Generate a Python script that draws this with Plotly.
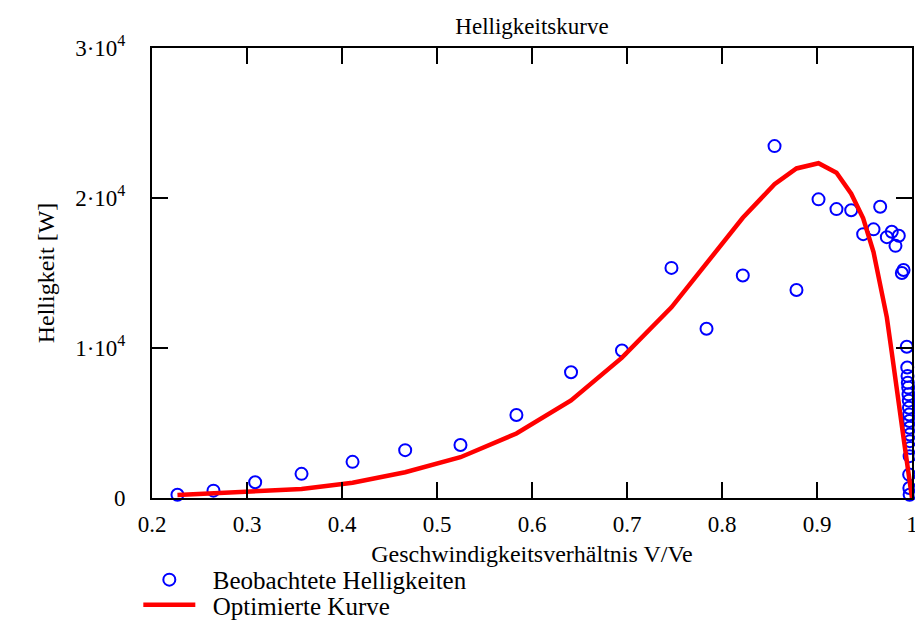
import plotly.graph_objects as go

# Observed brightness (Beobachtete Helligkeiten)
obs_x = [0.2268, 0.2647, 0.3086, 0.3574, 0.4111, 0.4665, 0.5247, 0.5836, 0.6411, 0.6947,
         0.7468, 0.7837, 0.8219, 0.8553, 0.8784, 0.9016, 0.9205, 0.9360, 0.9486, 0.9595,
         0.9665, 0.9735, 0.9787, 0.9826, 0.9861, 0.9893, 0.9911,
         0.9945, 0.9950, 0.9953, 0.9956, 0.9960, 0.9963, 0.9966, 0.9968, 0.9970, 0.9972,
         0.9974, 0.9976, 0.9978, 0.9980, 0.9975, 0.9970, 0.9972, 0.9975]
obs_y = [220, 490, 1050, 1610, 2410, 3190, 3530, 5530, 8380, 9830,
         15340, 11280, 14830, 23460, 13870, 19910, 19260, 19180, 17590, 17910,
         19420, 17390, 17750, 16810, 17480, 15000, 15200,
         10080, 8700, 8140, 7690, 7360, 6910, 6490, 6020, 5570, 5130,
         4680, 4230, 3790, 3340, 2790, 1560, 670, 220]

# Optimized curve (Optimierte Kurve)
fit_x = [0.2268, 0.2647, 0.3086, 0.3574, 0.4111, 0.4665, 0.5247, 0.5836, 0.6411, 0.6947,
         0.7468, 0.7837, 0.8219, 0.8553, 0.8784, 0.9016, 0.9205, 0.9360, 0.9486, 0.9595,
         0.9665, 0.9735, 0.9787, 0.9826, 0.9861, 0.9893, 0.9911, 1.0]
fit_y = [200, 310, 400, 600, 1020, 1720, 2720, 4300, 6510, 9360,
         12710, 15650, 18680, 20920, 21970, 22320, 21690, 20290, 18650, 16390,
         14380, 12040, 9700, 8030, 6350, 4820, 4010, 0]

x_ticks = [0.2, 0.3, 0.4, 0.5, 0.6, 0.7, 0.8, 0.9, 1.0]
x_ticktext = ["0.2", "0.3", "0.4", "0.5", "0.6", "0.7", "0.8", "0.9", "1"]
y_ticks = [0, 10000, 20000, 30000]
y_ticktext = ["0", "1\u00b710<sup>4</sup>", "2\u00b710<sup>4</sup>", "3\u00b710<sup>4</sup>"]

FONT = "Liberation Serif, Times New Roman, serif"
NB = "\u00a0\u00a0"

fig = go.Figure()
fig.add_trace(go.Scatter(
    x=obs_x, y=obs_y, mode="markers", name=NB + "Beobachtete Helligkeiten",
    marker=dict(symbol="circle-open", size=12, color="#0000ff", line=dict(width=2, color="#0000ff")),
    cliponaxis=False, legend="legend",
))
fig.add_trace(go.Scatter(
    x=fit_x, y=fit_y, mode="lines", name=NB + "Optimierte Kurve",
    line=dict(color="#ff0000", width=4.5),
    cliponaxis=False, legend="legend2",
))

axis_common = dict(
    showline=True, linecolor="black", linewidth=2, mirror="ticks",
    ticks="inside", ticklen=16, tickwidth=1.5, tickcolor="black",
    showgrid=False, zeroline=False, automargin=False,
    tickfont=dict(family=FONT, size=23, color="black"),
)

leg_common = dict(xanchor="left", yanchor="middle",
                  font=dict(family=FONT, size=25, color="black"),
                  itemwidth=52, bgcolor="rgba(0,0,0,0)", borderwidth=0)

fig.update_layout(
    width=923, height=623,
    margin=dict(l=144, r=19, t=40, b=133, autoexpand=False),
    paper_bgcolor="white", plot_bgcolor="white",
    font=dict(family=FONT, color="black"),
    title=dict(text="Helligkeitskurve", x=0.5, xref="paper", xanchor="center",
               y=1 - 18 / 623, yanchor="middle",
               font=dict(family=FONT, size=23, color="black")),
    xaxis=dict(range=[0.2, 1.0], tickvals=x_ticks, ticktext=x_ticktext,
               ticklabelstandoff=4,
               title=dict(text="Geschwindigkeitsverhältnis V/Ve", standoff=10,
                          font=dict(family=FONT, size=24, color="black")),
               **axis_common),
    yaxis=dict(range=[0, 30000], tickvals=y_ticks, ticktext=y_ticktext,
               ticklabelstandoff=20,
               title=dict(text="Helligkeit [W]", standoff=14,
                          font=dict(family=FONT, size=24, color="black")),
               **axis_common),
    showlegend=True,
    legend=dict(x=-0.018, y=-0.182, **leg_common),
    legend2=dict(x=-0.018, y=-0.238, **leg_common),
)

fig.write_html("out.html")
